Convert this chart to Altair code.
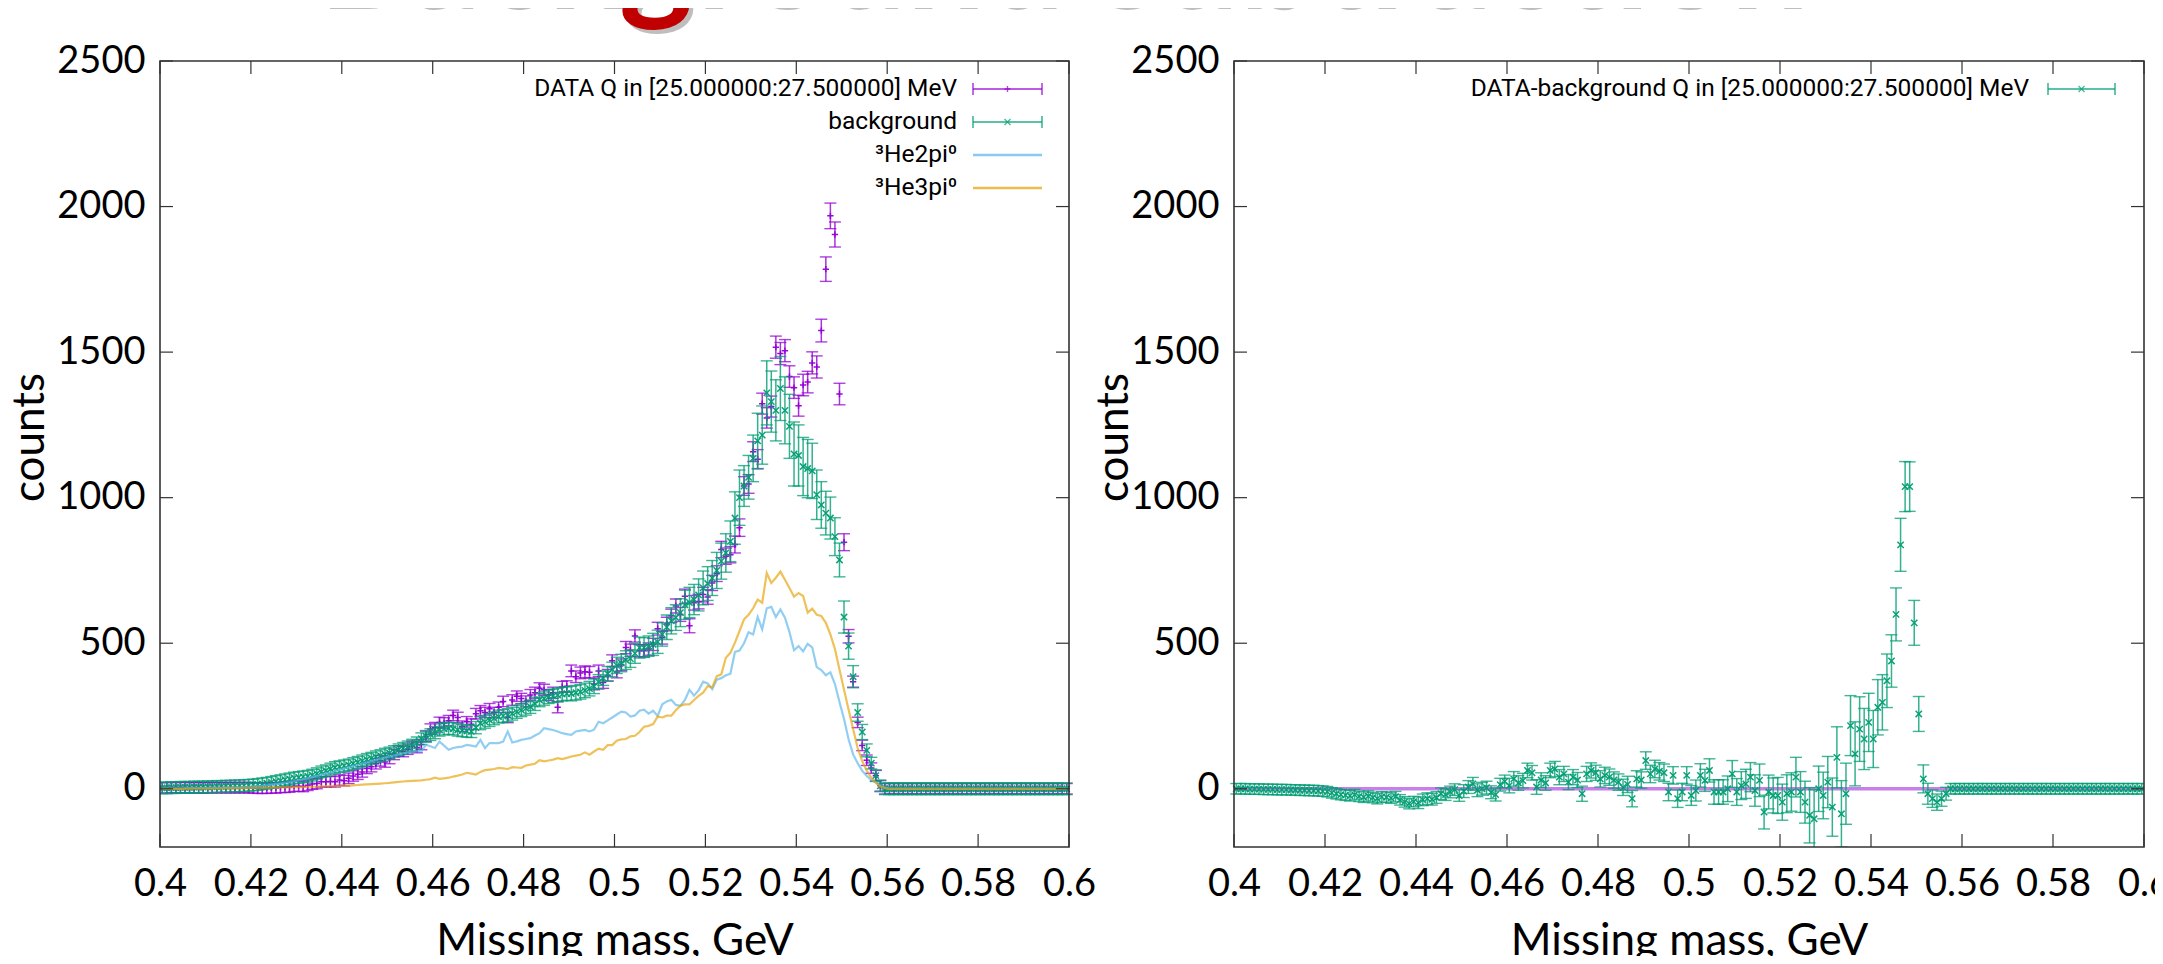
import altair as alt
import pandas as pd

# ---------------- data ----------------
BIN_START = 0.4
BIN_WIDTH = 0.001

DATA_Q = [
    3, 3, 4, 3, 4, 4, 3, 4, 4, 3,
    4, 4, 4, 4, 4, 4, 4, 4, 4, 4,
    3, 2, 2, 2, 3, 3, 5, 5, 6, 9,
    9, 8, 12, 16, 18, 24, 24, 25, 24, 30,
    28, 36, 44, 50, 58, 70, 76, 86, 96, 92,
    104, 118, 130, 128, 136, 146, 142, 152, 180, 205,
    210, 228, 226, 234, 252, 245, 215, 230, 222, 258,
    268, 262, 275, 262, 280, 300, 245, 305, 318, 310,
    300, 322, 330, 345, 340, 322, 330, 280, 350, 352,
    405, 385, 398, 402, 400, 360, 405, 365, 390, 440,
    401, 426, 485, 476, 525, 474, 474, 480, 496, 550,
    519, 566, 594, 628, 599, 661, 560, 639, 643, 667,
    659, 707, 739, 822, 799, 804, 839, 897, 1040, 1047,
    1158, 1132, 1323, 1274, 1313, 1517, 1495, 1505, 1416, 1378,
    1316, 1387, 1397, 1463, 1449, 1574, 1785, 1968, 1904, 1356,
    847, 524, 368, 228, 149, 98, 71, 45, 10, 0,
    0, 0, 0, 0, 0, 0, 0, 0, 0, 0,
    0, 0, 0, 0, 0, 0, 0, 0, 0, 0,
    0, 0, 0, 0, 0, 0, 0, 0, 0, 0,
    0, 0, 0, 0, 0, 0, 0, 0, 0, 0,
]
DATA_Q_ERR = [
    18, 18, 18, 18, 18, 18, 18, 18, 18, 18,
    18, 18, 18, 18, 18, 18, 18, 18, 18, 18,
    18, 18, 18, 18, 18, 18, 18, 18, 18, 18,
    18, 18, 18, 18, 18, 18, 18, 18, 18, 18,
    18, 18, 18, 18, 18, 18, 18, 18, 18, 18,
    18, 18, 18, 18, 18, 18, 18, 18, 18, 18,
    18, 18, 18, 18, 18, 18, 18, 18, 18, 18,
    18, 18, 18, 18, 18, 18, 18, 18, 18, 18,
    19, 19, 19, 19, 19, 19, 19, 19, 19, 19,
    20, 20, 20, 20, 20, 20, 20, 20, 20, 20,
    20, 20, 21, 21, 21, 21, 21, 21, 21, 22,
    22, 23, 23, 24, 24, 25, 24, 25, 25, 25,
    25, 26, 27, 28, 28, 28, 29, 30, 32, 32,
    34, 33, 36, 35, 36, 38, 38, 38, 37, 37,
    36, 37, 37, 38, 38, 39, 42, 44, 43, 37,
    29, 23, 19, 18, 18, 18, 18, 18, 18, 18,
    18, 18, 18, 18, 18, 18, 18, 18, 18, 18,
    18, 18, 18, 18, 18, 18, 18, 18, 18, 18,
    18, 18, 18, 18, 18, 18, 18, 18, 18, 18,
    18, 18, 18, 18, 18, 18, 18, 18, 18, 18,
]
BACKGROUND = [
    3, 3, 4, 4, 5, 5, 5, 6, 6, 6,
    7, 7, 8, 8, 9, 9, 10, 10, 11, 12,
    13, 15, 17, 19, 22, 25, 28, 31, 34, 37,
    39, 41, 43, 47, 52, 58, 62, 68, 73, 76,
    79, 82, 87, 91, 96, 101, 105, 110, 114, 119,
    123, 128, 134, 139, 144, 150, 158, 172, 180, 186,
    193, 202, 206, 208, 206, 202, 200, 198, 197, 210,
    225, 230, 236, 242, 248, 250, 253, 258, 264, 270,
    276, 282, 292, 305, 310, 316, 319, 322, 325, 327,
    327, 330, 333, 338, 344, 352, 367, 380, 395, 410,
    424, 432, 442, 447, 465, 485, 485, 490, 496, 505,
    530, 555, 577, 588, 605, 632, 640, 650, 666, 690,
    705, 724, 750, 782, 810, 850, 930, 1000, 1040, 1070,
    1135, 1195, 1215, 1360, 1330, 1300, 1375, 1300, 1245, 1150,
    1145, 1107, 1100, 1092, 1010, 975, 947, 930, 866, 786,
    590, 490, 385, 262, 195, 132, 88, 45, 10, 0,
    0, 0, 0, 0, 0, 0, 0, 0, 0, 0,
    0, 0, 0, 0, 0, 0, 0, 0, 0, 0,
    0, 0, 0, 0, 0, 0, 0, 0, 0, 0,
    0, 0, 0, 0, 0, 0, 0, 0, 0, 0,
]
BACKGROUND_ERR = [
    20, 20, 20, 20, 20, 20, 20, 20, 20, 20,
    20, 20, 20, 20, 20, 20, 20, 20, 20, 20,
    20, 20, 20, 20, 20, 20, 20, 20, 20, 20,
    20, 20, 20, 20, 20, 20, 20, 20, 20, 20,
    20, 20, 20, 20, 20, 20, 20, 20, 20, 20,
    20, 20, 20, 20, 20, 20, 20, 20, 20, 20,
    21, 21, 21, 21, 21, 21, 21, 21, 21, 21,
    22, 22, 22, 22, 22, 22, 22, 22, 22, 22,
    23, 23, 23, 23, 23, 23, 23, 23, 23, 23,
    25, 25, 25, 25, 25, 25, 25, 25, 25, 25,
    28, 30, 32, 30, 34, 36, 34, 35, 38, 40,
    40, 42, 45, 44, 48, 50, 52, 52, 55, 58,
    58, 60, 62, 62, 66, 70, 90, 95, 70, 75,
    80, 95, 100, 110, 105, 105, 110, 115, 110, 110,
    105, 100, 100, 95, 85, 80, 75, 72, 65, 58,
    55, 45, 38, 30, 26, 22, 20, 20, 20, 20,
    20, 20, 20, 20, 20, 20, 20, 20, 20, 20,
    20, 20, 20, 20, 20, 20, 20, 20, 20, 20,
    20, 20, 20, 20, 20, 20, 20, 20, 20, 20,
    20, 20, 20, 20, 20, 20, 20, 20, 20, 20,
]
HE2PI = [
    1, 1, 1, 1, 1, 2, 2, 2, 2, 2,
    2, 3, 3, 3, 4, 4, 5, 5, 6, 7,
    8, 9, 10, 12, 14, 16, 18, 20, 23, 26,
    29, 32, 36, 40, 44, 48, 52, 56, 60, 65,
    69, 74, 78, 82, 86, 90, 95, 99, 103, 107,
    111, 115, 118, 122, 125, 127, 129, 128, 151, 146,
    140, 162, 148, 134, 140, 143, 145, 151, 148, 145,
    168, 140, 157, 157, 157, 162, 197, 159, 163, 168,
    171, 174, 183, 191, 208, 205, 202, 197, 191, 188,
    185, 197, 200, 202, 197, 203, 230, 225, 235, 245,
    255, 265, 262, 248, 252, 268, 272, 258, 268, 250,
    290, 300, 306, 288, 285, 305, 340, 320, 338, 368,
    362, 342, 375, 380, 390, 395, 470, 475, 500, 538,
    530, 590, 548, 620, 625, 590, 616, 588, 538, 476,
    490, 472, 498, 486, 418, 408, 390, 400, 360, 298,
    240, 170, 118, 88, 62, 44, 30, 22, 12, 4,
    0, 0, 0, 0, 0, 0, 0, 0, 0, 0,
    0, 0, 0, 0, 0, 0, 0, 0, 0, 0,
    0, 0, 0, 0, 0, 0, 0, 0, 0, 0,
    0, 0, 0, 0, 0, 0, 0, 0, 0, 0,
]
HE3PI = [
    0, 0, 0, 0, 0, 0, 1, 1, 1, 1,
    1, 1, 1, 1, 2, 2, 2, 2, 2, 3,
    3, 3, 3, 4, 4, 4, 5, 5, 5, 6,
    6, 6, 7, 7, 7, 8, 8, 9, 9, 10,
    11, 11, 12, 13, 14, 15, 16, 17, 18, 19,
    20, 22, 24, 25, 26, 27, 28, 29, 31, 33,
    38, 34, 36, 38, 42, 45, 49, 55, 52, 49,
    58, 64, 66, 68, 72, 70, 68, 74, 73, 72,
    80, 83, 86, 98, 94, 97, 100, 105, 102, 106,
    111, 114, 117, 125, 117, 128, 138, 134, 150, 150,
    165, 170, 171, 180, 182, 195, 213, 216, 222, 248,
    245, 251, 251, 270, 285, 290, 290, 305, 319, 330,
    353, 348, 387, 393, 450, 467, 502, 542, 582, 598,
    620, 650, 639, 741, 707, 725, 746, 718, 690, 660,
    672, 662, 605, 619, 598, 594, 570, 530, 480, 410,
    340, 272, 205, 140, 95, 62, 38, 20, 8, 2,
    0, 0, 0, 0, 0, 0, 0, 0, 0, 0,
    0, 0, 0, 0, 0, 0, 0, 0, 0, 0,
    0, 0, 0, 0, 0, 0, 0, 0, 0, 0,
    0, 0, 0, 0, 0, 0, 0, 0, 0, 0,
]
DIFF = [
    0, 0, 0, -1, -1, -1, -2, -2, -2, -3,
    -3, -3, -4, -4, -5, -5, -6, -6, -7, -8,
    -10, -14, -17, -20, -22, -24, -20, -26, -29, -25,
    -30, -34, -28, -29, -32, -27, -38, -45, -51, -44,
    -48, -38, -34, -36, -30, -17, -20, -11, -3, -23,
    -8, 6, 17, -5, 0, 4, -12, -20, 14, 25,
    11, 34, 20, 28, 63, 55, 6, 30, 20, 63,
    68, 40, 51, 23, 40, 30, -17, 51, 63, 55,
    34, 46, 40, 30, 23, 5, 15, -34, 34, 30,
    97, 51, 68, 60, 55, -11, 46, -34, -11, 46,
    -23, -6, 46, 29, 63, -11, -11, -11, 0, 51,
    -11, 11, 17, 40, -6, 29, -80, -11, -23, -23,
    -46, -17, -11, 40, -11, -46, -91, -103, 0, -23,
    23, -63, 108, -86, -17, 217, 120, 205, 171, 228,
    171, 280, 297, 371, 439, 599, 838, 1038, 1038, 570,
    257, 34, -17, -34, -46, -34, -17, 0, 0, 0,
    0, 0, 0, 0, 0, 0, 0, 0, 0, 0,
    0, 0, 0, 0, 0, 0, 0, 0, 0, 0,
    0, 0, 0, 0, 0, 0, 0, 0, 0, 0,
    0, 0, 0, 0, 0, 0, 0, 0, 0, 0,
]
DIFF_ERR = [
    18, 18, 18, 18, 18, 18, 18, 18, 18, 18,
    18, 18, 18, 18, 18, 18, 18, 18, 18, 18,
    18, 18, 18, 18, 18, 18, 18, 18, 18, 18,
    18, 18, 18, 18, 18, 18, 18, 18, 18, 18,
    20, 20, 20, 20, 20, 20, 20, 20, 20, 20,
    22, 22, 22, 22, 22, 22, 22, 22, 22, 22,
    25, 25, 25, 25, 25, 25, 25, 25, 25, 25,
    26, 26, 26, 26, 26, 26, 26, 26, 26, 26,
    28, 28, 28, 28, 28, 28, 28, 28, 28, 28,
    30, 30, 30, 30, 30, 30, 30, 30, 30, 30,
    34, 36, 40, 38, 40, 42, 42, 42, 44, 46,
    46, 48, 50, 50, 54, 56, 58, 58, 60, 62,
    62, 65, 66, 68, 70, 72, 95, 100, 78, 80,
    88, 100, 105, 114, 105, 103, 110, 111, 105, 100,
    98, 95, 95, 92, 90, 91, 91, 86, 85, 77,
    60, 48, 36, 30, 28, 26, 22, 18, 18, 18,
    18, 18, 18, 18, 18, 18, 18, 18, 18, 18,
    18, 18, 18, 18, 18, 18, 18, 18, 18, 18,
    18, 18, 18, 18, 18, 18, 18, 18, 18, 18,
    18, 18, 18, 18, 18, 18, 18, 18, 18, 18,
]

X_TICKS = [0.4, 0.42, 0.44, 0.46, 0.48, 0.5, 0.52, 0.54, 0.56, 0.58, 0.6]
Y_TICKS = [0, 500, 1000, 1500, 2000, 2500]
X_DOMAIN = [0.4, 0.6]
Y_DOMAIN = [-200, 2500]
ZERO_LINE_X = [0.4, 0.6]
ZERO_LINE_Y = [0, 0]

TITLE = "Background subtraction"
X_TITLE = "Missing mass, GeV"
Y_TITLE = "counts"
LEGEND_LEFT = ["DATA Q in [25.000000:27.500000] MeV", "background", "³He2pi⁰", "³He3pi⁰"]
LEGEND_RIGHT = ["DATA-background Q in [25.000000:27.500000] MeV"]

for arr in (DATA_Q, DATA_Q_ERR, BACKGROUND, BACKGROUND_ERR, HE2PI, HE3PI, DIFF, DIFF_ERR):
    assert len(arr) == 200, len(arr)

N = len(DATA_Q)
MASS = [round(BIN_START + BIN_WIDTH * (i + 0.5), 5) for i in range(N)]

left_df = pd.DataFrame({
    "m": MASS,
    "data": DATA_Q,
    "data_lo": [v - e for v, e in zip(DATA_Q, DATA_Q_ERR)],
    "data_hi": [v + e for v, e in zip(DATA_Q, DATA_Q_ERR)],
    "bg": BACKGROUND,
    "bg_lo": [v - e for v, e in zip(BACKGROUND, BACKGROUND_ERR)],
    "bg_hi": [v + e for v, e in zip(BACKGROUND, BACKGROUND_ERR)],
    "he2": HE2PI,
    "he3": HE3PI,
})
right_df = pd.DataFrame({
    "m": MASS,
    "d": DIFF,
    "d_lo": [v - e for v, e in zip(DIFF, DIFF_ERR)],
    "d_hi": [v + e for v, e in zip(DIFF, DIFF_ERR)],
})
zero_df = pd.DataFrame({"m": ZERO_LINE_X, "v": ZERO_LINE_Y})
frame_df = pd.DataFrame({"x": [X_DOMAIN[0]], "x2": [X_DOMAIN[1]], "y": [Y_DOMAIN[0]], "y2": [Y_DOMAIN[1]]})
xt_df = pd.DataFrame({"t": X_TICKS})
yt_df = pd.DataFrame({"t": Y_TICKS})

# ---------------- layout / style ----------------
W_L, GAP, W_R, H = 909, 165, 910, 786
R0 = W_L + GAP
W = R0 + W_R
TICK = 13
PAD_BOTTOM = 109

PURPLE = "#9400D3"
GREEN = "#009E73"
BLUE = "#56B4E9"
ORANGE = "#E69F00"
FRAME = "#333333"
PLUS = "M-1,0L1,0M0,-1L0,1"
CROSS = "M-1,-1L1,1M-1,1L1,-1"


def x_axis():
    return alt.Axis(values=X_TICKS, format="~g", orient="bottom", ticks=False, domain=False, grid=False,
                    labelFont="Lato", labelFontSize=38, labelColor="#000000", labelPadding=18,
                    labelFlush=False, labelOverlap=False, labelBound=False,
                    title=X_TITLE, titleFont="Lato", titleFontSize=44, titleFontWeight="normal",
                    titleColor="#000000", titleBaseline="alphabetic", titleY=107)


def y_axis(offset, title_x):
    return alt.Axis(values=Y_TICKS, format="d", orient="left", offset=offset, ticks=False, domain=False,
                    grid=False, labelFont="Lato", labelFontSize=38, labelColor="#000000", labelPadding=15,
                    labelOverlap=False, title=Y_TITLE, titleFont="Lato", titleFontSize=44,
                    titleFontWeight="normal", titleColor="#000000", titleAngle=270, titleAlign="center",
                    titleBaseline="middle", titleX=title_x, titleY=376)


XL_SCALE = alt.Scale(domain=X_DOMAIN, range=[0, W_L], nice=False, zero=False)
XR_SCALE = alt.Scale(domain=X_DOMAIN, range=[R0, W], nice=False, zero=False)
Y_SCALE = alt.Scale(domain=Y_DOMAIN, nice=False, zero=False)
AX_XL, AX_XR = x_axis(), x_axis()
AX_YL, AX_YR = y_axis(0, -130), y_axis(-R0, -120)


def XL(f):
    return alt.X(f, type="quantitative", scale=XL_SCALE, axis=AX_XL)


def XR(f):
    return alt.X(f, type="quantitative", scale=XR_SCALE, axis=AX_XR)


def YL(f):
    return alt.Y(f, type="quantitative", scale=Y_SCALE, axis=AX_YL)


def YR(f):
    return alt.Y(f, type="quantitative", scale=Y_SCALE, axis=AX_YR)


def errorbars(df, yc, lo, hi, color, shape, Xf, Yf):
    base = alt.Chart(df)
    return [
        base.mark_rule(color=color, strokeWidth=1.5, opacity=0.8, clip=True).encode(
            x=Xf("m"), y=Yf(lo), y2=alt.Y2(hi)),
        base.mark_tick(orient="horizontal", size=12, thickness=1.4, color=color, opacity=0.75, clip=True).encode(
            x=Xf("m"), y=Yf(lo)),
        base.mark_tick(orient="horizontal", size=12, thickness=1.4, color=color, opacity=0.75, clip=True).encode(
            x=Xf("m"), y=Yf(hi)),
        base.mark_point(shape=shape, size=40, filled=False, strokeWidth=1.5, color=color, opacity=0.95,
                        clip=True).encode(x=Xf("m"), y=Yf(yc)),
    ]


def frame_layers(Xf, Yf, x0, x1):
    return [
        alt.Chart(xt_df).mark_rule(color=FRAME, strokeWidth=1.2).encode(
            x=Xf("t"), y=alt.value(H), y2=alt.value(H - TICK)),
        alt.Chart(xt_df).mark_rule(color=FRAME, strokeWidth=1.2).encode(
            x=Xf("t"), y=alt.value(0), y2=alt.value(TICK)),
        alt.Chart(yt_df).mark_rule(color=FRAME, strokeWidth=1.2).encode(
            y=Yf("t"), x=alt.value(x0), x2=alt.value(x0 + TICK)),
        alt.Chart(yt_df).mark_rule(color=FRAME, strokeWidth=1.2).encode(
            y=Yf("t"), x=alt.value(x1 - TICK), x2=alt.value(x1)),
        alt.Chart(frame_df).mark_rect(fillOpacity=0, stroke=FRAME, strokeWidth=1.6).encode(
            x=Xf("x"), x2=alt.X2("x2"), y=Yf("y"), y2=alt.Y2("y2")),
    ]


def legend_entry(label, row_y, text_right, x0, x1, color, kind, shape=None):
    d = pd.DataFrame({"label": [label]})
    base = alt.Chart(d)
    out = [base.mark_text(font="Roboto", fontSize=24.5, align="right", baseline="middle", color="#000000").encode(
        text="label:N", x=alt.value(text_right), y=alt.value(row_y))]
    if kind == "err":
        out += [
            base.mark_rule(color=color, strokeWidth=1.4, opacity=0.85).encode(
                x=alt.value(x0), x2=alt.value(x1), y=alt.value(row_y)),
            base.mark_rule(color=color, strokeWidth=1.4, opacity=0.85).encode(
                x=alt.value(x0), y=alt.value(row_y - 6), y2=alt.value(row_y + 6)),
            base.mark_rule(color=color, strokeWidth=1.4, opacity=0.85).encode(
                x=alt.value(x1), y=alt.value(row_y - 6), y2=alt.value(row_y + 6)),
            base.mark_point(shape=shape, size=36, filled=False, strokeWidth=1.4, color=color).encode(
                x=alt.value((x0 + x1) / 2), y=alt.value(row_y)),
        ]
    else:
        out.append(base.mark_rule(color=color, strokeWidth=2.4, opacity=0.7).encode(
            x=alt.value(x0), x2=alt.value(x1), y=alt.value(row_y)))
    return out


# ---------------- left panel ----------------
left_layers = []
left_layers += errorbars(left_df, "data", "data_lo", "data_hi", PURPLE, PLUS, XL, YL)
left_layers += errorbars(left_df, "bg", "bg_lo", "bg_hi", GREEN, CROSS, XL, YL)
left_layers.append(alt.Chart(left_df).mark_line(color=BLUE, strokeWidth=2.2, opacity=0.65, clip=True).encode(
    x=XL("m"), y=YL("he2")))
left_layers.append(alt.Chart(left_df).mark_line(color=ORANGE, strokeWidth=2.2, opacity=0.65, clip=True).encode(
    x=XL("m"), y=YL("he3")))
left_layers += frame_layers(XL, YL, 0, W_L)
rows = [28, 61, 94, 127]
left_layers += legend_entry(LEGEND_LEFT[0], rows[0], 797, 813, 882, PURPLE, "err", PLUS)
left_layers += legend_entry(LEGEND_LEFT[1], rows[1], 797, 813, 882, GREEN, "err", CROSS)
left_layers += legend_entry(LEGEND_LEFT[2], rows[2], 797, 813, 882, BLUE, "line")
left_layers += legend_entry(LEGEND_LEFT[3], rows[3], 797, 813, 882, ORANGE, "line")

# slide title (cut by the top of the page)
title_df = pd.DataFrame({"t": [TITLE]})
left_layers.append(alt.Chart(title_df).mark_text(font="Lato", fontSize=140, fontWeight="bold", color="#7f7f7f",
                                                 opacity=0.5, align="center", baseline="alphabetic").encode(
    text="t:N", x=alt.value(904), y=alt.value(-52)))
left_layers.append(alt.Chart(title_df).mark_text(font="Lato", fontSize=140, fontWeight="bold", color="#C00000",
                                                 align="center", baseline="alphabetic").encode(
    text="t:N", x=alt.value(900), y=alt.value(-56)))

# ---------------- right panel ----------------
right_layers = []
right_layers.append(alt.Chart(zero_df).mark_line(color=PURPLE, strokeWidth=3.5, opacity=0.5, clip=True).encode(
    x=XR("m"), y=YR("v")))
right_layers += errorbars(right_df, "d", "d_lo", "d_hi", GREEN, CROSS, XR, YR)
right_layers += frame_layers(XR, YR, R0, W)
right_layers += legend_entry(LEGEND_RIGHT[0], rows[0], 1869, 1888, 1955, GREEN, "err", CROSS)

left_panel = alt.layer(*left_layers)
right_panel = alt.layer(*right_layers)

chart = alt.layer(left_panel, right_panel).resolve_scale(
    x="independent", y="independent"
).properties(
    width=W, height=H,
    autosize=alt.AutoSizeParams(type="none"),
    padding={"left": 152, "top": 53, "right": 11, "bottom": PAD_BOTTOM},
    background="white",
).configure_view(stroke="transparent")

chart.save("out.html", embed_options={"renderer": "svg", "actions": False})
